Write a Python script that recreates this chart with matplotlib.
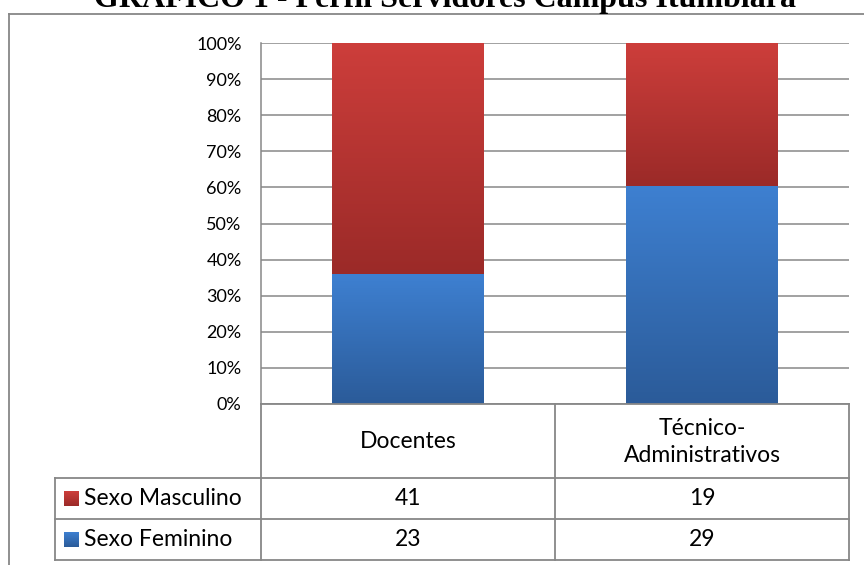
import numpy as np
import matplotlib
matplotlib.use("Agg")
import matplotlib.pyplot as plt
from matplotlib.colors import LinearSegmentedColormap
from matplotlib.ticker import PercentFormatter
from matplotlib.lines import Line2D

# dados do gráfico
categorias = ["Docentes", "Técnico-\nAdministrativos"]
series = ["Sexo Masculino", "Sexo Feminino"]
masculino = [41, 19]
feminino = [23, 29]
titulo = "GRÁFICO 1 - Perfil Servidores Campus Itumbiara"

W, H = 864, 565
plt.rcParams['font.family'] = ['Lato', 'DejaVu Sans']

fig = plt.figure(figsize=(W / 100, H / 100), dpi=100)


def px(x, y):
    """pixel (origem no topo) -> coordenadas da figura"""
    return x / W, 1 - y / H


# área do gráfico
ax_l, ax_r, ax_t, ax_b = 261, 849, 43, 404
ax = fig.add_axes([ax_l / W, 1 - ax_b / H, (ax_r - ax_l) / W, (ax_b - ax_t) / H])

tot = np.array(masculino) + np.array(feminino)
fem_pct = np.array(feminino) / tot
mas_pct = np.array(masculino) / tot
xpos = np.arange(len(categorias))

grad_azul = LinearSegmentedColormap.from_list("azul", ["#2B5B99", "#3E80D1"])
grad_verm = LinearSegmentedColormap.from_list("verm", ["#9B2A28", "#CD3E3B"])

bars_f = ax.bar(xpos, fem_pct, width=0.517, color="#3A75C0", zorder=2)
bars_m = ax.bar(xpos, mas_pct, bottom=fem_pct, width=0.517, color="#C03734", zorder=2)

grad = np.linspace(0, 1, 256).reshape(-1, 1)
for bars, cmap in ((bars_f, grad_azul), (bars_m, grad_verm)):
    for b in bars:
        x0, y0 = b.get_x(), b.get_y()
        x1, y1 = x0 + b.get_width(), y0 + b.get_height()
        im = ax.imshow(grad, cmap=cmap, origin="lower", aspect="auto",
                       extent=[x0, x1, y0, y1], zorder=3)
        im.set_clip_path(b)

ax.set_xlim(-0.5, len(categorias) - 0.5)
ax.set_ylim(0, 1)
ax.set_yticks(np.arange(0, 1.01, 0.1))
ax.yaxis.set_major_formatter(PercentFormatter(1.0, decimals=0))
ax.tick_params(axis="y", length=0, pad=14, labelsize=13)
ax.set_xticks([])
ax.grid(axis="y", color="#878787", linewidth=1.1)
ax.set_axisbelow(True)
for s in ("top", "right", "bottom"):
    ax.spines[s].set_visible(False)
ax.spines["left"].set_color("#878787")
ax.spines["left"].set_linewidth(1.1)

# tabela de dados
linha = dict(color="#878787", linewidth=1.3)
tab_l, col_m = 55, 555
y_cab, y_r1, y_r2, y_fim = 404, 478, 519, 560


def seg(x0, y0, x1, y1):
    a, b = px(x0, y0)
    c, d = px(x1, y1)
    fig.add_artist(Line2D([a, c], [b, d], **linha))


seg(ax_l, y_cab, ax_r, y_cab)
for yy in (y_r1, y_r2, y_fim):
    seg(tab_l, yy, ax_r, yy)
seg(ax_l, y_cab, ax_l, y_fim)
seg(col_m, y_cab, col_m, y_fim)
seg(ax_r, y_cab, ax_r, y_fim)
seg(tab_l, y_r1, tab_l, y_fim)

fs_tab = 16.5
cols_c = [(ax_l + col_m) / 2, (col_m + ax_r) / 2]
for cx, cat in zip(cols_c, categorias):
    fig.text(*px(cx, (y_cab + y_r1) / 2 + 1), cat, ha="center", va="center",
             fontsize=fs_tab, linespacing=1.35)

cores_leg = [(grad_verm(0.0), grad_verm(1.0)), (grad_azul(0.0), grad_azul(1.0))]
for (yt, yb), nome, vals, cl in zip([(y_r1, y_r2), (y_r2, y_fim)], series,
                                    [masculino, feminino], cores_leg):
    yc = (yt + yb) / 2
    sq = 15
    x0, y0 = px(64, yc + sq / 2)
    leg_ax = fig.add_axes([x0, y0, sq / W, sq / H])
    leg_ax.imshow(grad, cmap=LinearSegmentedColormap.from_list("l", [cl[0], cl[1]]),
                  origin="lower", aspect="auto")
    leg_ax.axis("off")
    fig.text(*px(84, yc), nome, ha="left", va="center", fontsize=fs_tab)
    for cx, v in zip(cols_c, vals):
        fig.text(*px(cx, yc), str(v), ha="center", va="center", fontsize=fs_tab)

# moldura e título
seg(9, 14, W, 14)
seg(9, 14, 9, H)
fig.text(*px(445, 7), titulo, ha="center", va="baseline",
         fontsize=23, fontweight="bold", family="Liberation Serif")

fig.savefig("out.png", dpi=100)
